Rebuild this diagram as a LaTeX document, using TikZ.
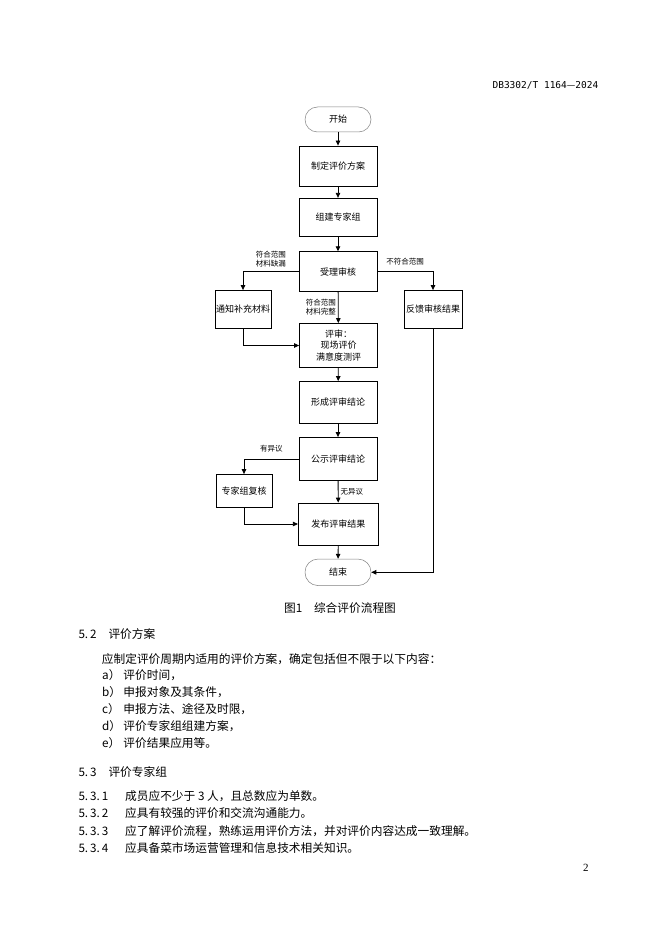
\documentclass[tikz,border=0pt]{standalone}
\usepackage{fontspec}
\setmainfont{Liberation Serif}
\newfontfamily\cjk{Noto Sans CJK SC}
\newfontfamily\codefont{DejaVu Sans Mono}
\usetikzlibrary{positioning, calc, arrows.meta}

\begin{document}
\begin{tikzpicture}[x=1pt, y=-1pt, >={Triangle[length=5pt,width=4.5pt]},
    font=\cjk\fontsize{9}{11.5}\selectfont,
    proc/.style={draw, line width=0.8pt, minimum width=78pt, minimum height=40pt, inner sep=1pt, align=center},
    side/.style={proc, minimum width=56pt, minimum height=38pt},
    term/.style={draw=black!50, line width=0.5pt, rounded corners=12.5pt, minimum width=66pt, minimum height=25pt},
    cond/.style={font=\cjk\fontsize{7.5}{9}\selectfont, align=center, inner sep=2pt},
    flow/.style={->, line width=0.8pt},
    body/.style={anchor=west, inner sep=0pt, font=\cjk\fontsize{11.7}{14}\selectfont}]
    \useasboundingbox (0,0) rectangle (662,936);

    % Header
    \node[anchor=east, inner sep=0pt, font=\codefont\fontsize{9.5}{11}\selectfont] (code) at (598.5,85) {DB3302/T 1164{\cjk —}2024};

    % Main column
    \node[term] (start) at (338,119.5) {开始};
    \node[proc] (plan) at (338,166) {制定评价方案};
    \node[proc, minimum height=38.5pt] (team) at (338,217.5) {组建专家组};
    \node[proc] (accept) at (338,271.7) {受理审核};
    \node[proc, minimum height=44pt] (review) at (338.5,345.5) {评审：\\现场评价\\满意度测评};
    \node[proc, minimum height=42pt] (conclude) at (338,402.5) {形成评审结论};
    \node[proc, minimum height=43pt] (publicize) at (338,459) {公示评审结论};
    \node[proc, minimum width=80pt, minimum height=42pt] (publish) at (338.3,524) {发布评审结果};
    \node[term, minimum height=26.5pt, rounded corners=13pt] (finish) at (338,572.3) {结束};

    % Side boxes
    \node[side] (notify) at (243,309.5) {通知补充材料};
    \node[side, minimum width=58pt] (feedback) at (433,309.5) {反馈审核结果};
    \node[side, minimum height=33pt] (recheck) at (244,491) {专家组复核};

    \draw[flow] (start) -- (plan);
    \draw[flow] (plan) -- (team);
    \draw[flow] (team) -- (accept);
    \draw[flow] (accept) -- node[cond, left] {符合范围\\材料完整} (review);
    \draw[flow] (accept.west) -| node[cond, pos=0.25, above=2pt] {符合范围\\材料缺漏} (notify.north);
    \draw[flow] (accept.east) -| node[cond, pos=0.25, above=4pt] {不符合范围} (feedback.north);
    \draw[flow] (notify.south) |- (review.west);
    \draw[flow] (review) -- (conclude);
    \draw[flow] (conclude) -- (publicize);
    \draw[flow] (publicize.west) -| node[cond, pos=0.25, above=4pt] {有异议} (recheck.north);
    \draw[flow] (publicize) -- node[cond, right] {无异议} (publish);
    \draw[flow] (recheck.south) |- (publish.west);
    \draw[flow] (publish) -- (finish);
    \draw[flow] (feedback.south) |- (finish.east);

    % Caption and text
    \node[inner sep=0pt, font=\cjk\fontsize{11.7}{14}\selectfont] (caption) at (340,608.5) {图1\quad 综合评价流程图};
    \node[body] (sec52) at (78.3,634) {\makebox[30pt][l]{5.\hspace{2pt}2}评价方案};
    \node[body] (intro) at (101.7,659.5) {应制定评价周期内适用的评价方案，确定包括但不限于以下内容：};
    \foreach \tag/\txt [count=\i from 0] in {a）/评价时间，, b）/申报对象及其条件，, c）/申报方法、途径及时限，, d）/评价专家组组建方案，, e）/评价结果应用等。}
      \node[body] (item\i) at (102,675.5+17*\i) {\makebox[21.3pt][l]{\tag}\txt};
    \node[body] (sec53) at (78.3,771.7) {\makebox[30pt][l]{5.\hspace{2pt}3}评价专家组};
    \foreach \num/\txt [count=\i from 0] in {5.\hspace{2pt}3.\hspace{2pt}1/成员应不少于 3 人，且总数应为单数。, 5.\hspace{2pt}3.\hspace{2pt}2/应具有较强的评价和交流沟通能力。, 5.\hspace{2pt}3.\hspace{2pt}3/应了解评价流程，熟练运用评价方法，并对评价内容达成一致理解。, 5.\hspace{2pt}3.\hspace{2pt}4/应具备菜市场运营管理和信息技术相关知识。}
      \node[body] (clause\i) at (78.3,796+17.4*\i) {\makebox[46.7pt][l]{\num}\txt};
    \node[inner sep=0pt, font=\fontsize{11}{13}\selectfont] (page) at (585.8,868) {2};
\end{tikzpicture}
\end{document}
